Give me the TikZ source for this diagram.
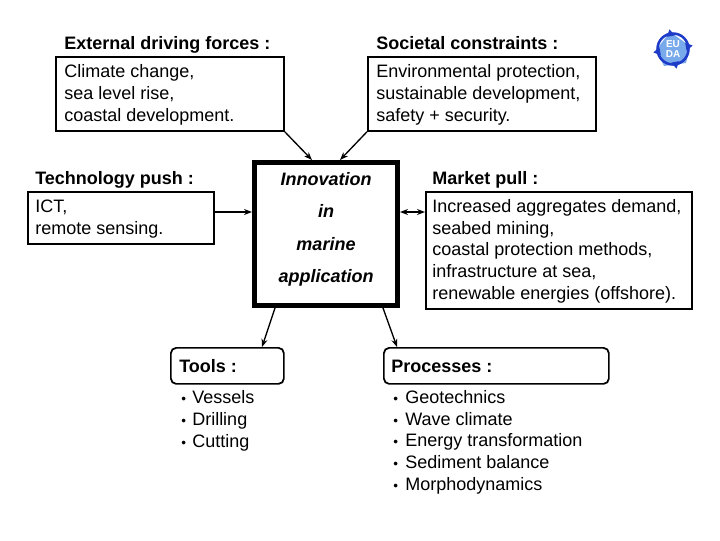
\documentclass[tikz,border=0pt]{standalone}
\usepackage{fontspec}
\setmainfont{Liberation Sans}
\usetikzlibrary{arrows.meta}
\definecolor{logoblue}{RGB}{30,60,200}
\definecolor{logolight}{RGB}{120,170,235}
\tikzset{
  head/.style={anchor=base west,inner sep=0pt,font=\fontsize{13.5}{16.2}\selectfont\bfseries},
  txt/.style={anchor=base west,inner sep=0pt,align=left,font=\fontsize{13.5}{16.2}\selectfont},
  box/.style={draw,line width=1.3pt,anchor=north west,inner sep=0pt},
  tag/.style={box,rounded corners=4pt},
  core/.style={anchor=base,inner sep=0pt,font=\fontsize{13.5}{16}\selectfont\itshape\bfseries},
  link/.style={line width=1pt,-{Stealth[length=6pt,width=4.5pt]}},
}
\newcommand{\bul}[1]{\hbox to #1{\hspace{1.5pt}\scalebox{.75}{\textbullet}\hfil}}
\begin{document}
\begin{tikzpicture}[x=.75pt,y=-.75pt]
\useasboundingbox (0,0) rectangle (720,540);
% boxes
\node[box,minimum width=171pt,minimum height=55.5pt] (climate) at (55,56) {};
\node[box,minimum width=171pt,minimum height=55.5pt] (society) at (367,56) {};
\node[box,minimum width=139.5pt,minimum height=39pt] (ict) at (27,191) {};
\node[box,minimum width=199.5pt,minimum height=87.75pt] (market) at (425,191) {};
\node[box,line width=3.75pt,minimum width=107.25pt,minimum height=107.25pt] (centre) at (252,160) {};
\node[tag,minimum width=84.75pt,minimum height=27pt] (tools) at (170,347) {};
\node[tag,minimum width=168.75pt,minimum height=27pt] (processes) at (383,347) {};
% headings
\node[head] (h1) at (64,49) {External driving forces :};
\node[head] (h2) at (376,49) {Societal constraints :};
\node[head] (h3) at (35,184) {Technology push :};
\node[head] (h4) at (432,184) {Market pull :};
\node[head] (h5) at (179,372) {Tools :};
\node[head] (h6) at (391,372) {Processes :};
% texts
\node[txt] (t1) at (64,121) {Climate change,\\sea level rise,\\coastal development.};
\node[txt] (t2) at (376,121) {Environmental protection,\\sustainable development,\\safety + security.};
\node[txt] (t3) at (35,234) {ICT,\\remote sensing.};
\node[txt] (t4) at (432,299) {Increased aggregates demand,\\seabed mining,\\coastal protection methods,\\infrastructure at sea,\\renewable energies (offshore).};
\node[txt] (t5) at (179,447) {\bul{9.75pt}Vessels\\\bul{9.75pt}Drilling\\\bul{9.75pt}Cutting};
\node[txt] (t6) at (391,490) {\bul{10.5pt}Geotechnics\\\bul{10.5pt}Wave climate\\\bul{10.5pt}Energy transformation\\\bul{10.5pt}Sediment balance\\\bul{10.5pt}Morphodynamics};
% centre
\node[core] (c1) at (326,185) {Innovation};
\node[core] (c2) at (326,217) {in};
\node[core] (c3) at (326,250) {marine};
\node[core] (c4) at (326,282) {application};
% arrows
\coordinate (in1) at (312,160);
\coordinate (in2) at (340,160);
\coordinate (out1) at (275,308);
\coordinate (out2) at (383,308);
\coordinate (end1) at (262,347);
\coordinate (end2) at (397,347);
\coordinate (mid1) at (252,212);
\coordinate (mid2) at (400,212);
\coordinate (mid3) at (425,212);
\draw[link] (climate.south east) -- (in1);
\draw[link] (society.south west) -- (in2);
\draw[link] (ict.east |- mid1) -- (mid1);
\draw[link,{Stealth[length=6pt,width=4.5pt]}-{Stealth[length=6pt,width=4.5pt]}] (mid2) -- (mid3);
\draw[link] (out1) -- (end1);
\draw[link] (out2) -- (end2);
% logo
\coordinate (L) at (673,49);
\fill[logolight] (L) ++(-3,-17) -- ++(20,14) -- ++(-4,17) -- ++(-22,3) -- ++(-8,-16) -- cycle;
\draw[logoblue,line width=1.9pt] (L) circle (15.5);
\foreach \a in {-100,-10,80,170}{
  \fill[logoblue] (L) ++(\a:20) -- ++(\a+150:8) -- ++(\a-90:8) -- cycle;
}
\node[inner sep=0pt,white,font=\fontsize{7.5}{8}\selectfont\bfseries,align=center] (logotext) at (L) {EU\\DA};
\end{tikzpicture}
\end{document}
